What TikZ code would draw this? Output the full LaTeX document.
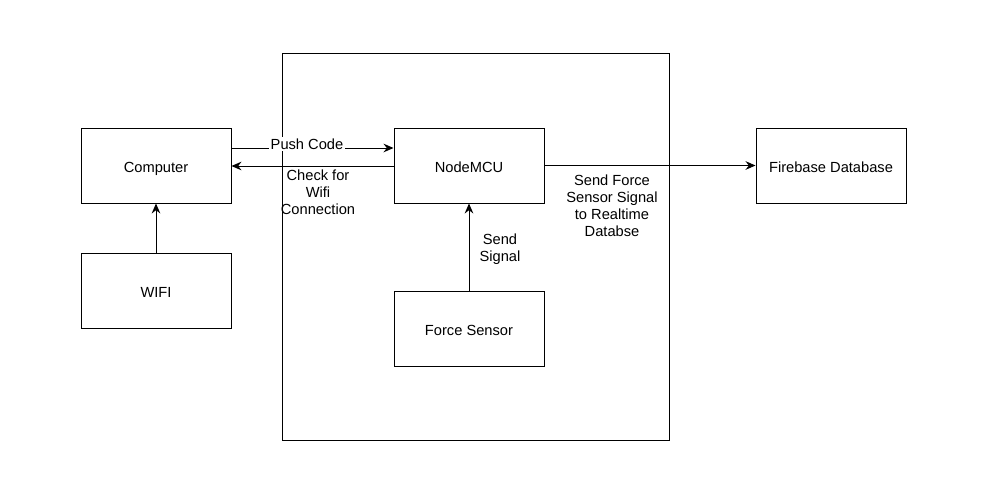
\documentclass[tikz,border=0pt]{standalone}
\usepackage{fontspec}
\setmainfont{Liberation Sans}
\usetikzlibrary{arrows.meta}
\begin{document}
\begin{tikzpicture}[x=0.75pt,y=-0.75pt,
  box/.style={draw,line width=0.75pt,minimum width=112.5pt,minimum height=56.25pt,inner sep=0pt,text height=10pt,text depth=0pt,font=\fontsize{11}{13}\selectfont},
  conn/.style={line width=0.75pt,-{Stealth[length=7.5pt,width=6.5pt,inset=2.5pt]}},
  lbl/.style={font=\fontsize{11}{12.75}\selectfont,align=center,inner sep=1pt}]
\useasboundingbox (0,0) rectangle (986,486);
\draw[line width=0.75pt] (282,53) rectangle (669,440);
\node[box] (comp) at (156,165.5) {Computer};
\node[box] (wifi) at (156,290.5) {WIFI};
\node[box] (mcu) at (469,165.5) {NodeMCU};
\node[box] (fs) at (469,328.5) {Force Sensor};
\node[box] (fb) at (831,165.5) {Firebase Database};
\draw[conn] (comp.east |- 0,148) -- (mcu.west |- 0,148);
\node[lbl,fill=white] (pc) at (307,144) {Push Code};
\draw[conn] (mcu.west |- 0,166) -- (comp.east |- 0,166);
\node[lbl,anchor=north] (cw) at (318,168) {Check for\\Wifi\\Connection};
\draw[conn] (mcu.east) -- (fb.west);
\node[lbl,anchor=north] (sf) at (612,173) {Send Force\\Sensor Signal\\to Realtime\\Databse};
\draw[conn] (fs.north) -- (mcu.south);
\node[lbl] (ss) at (500,249) {Send\\Signal};
\draw[conn] (wifi.north) -- (comp.south);
\end{tikzpicture}
\end{document}
